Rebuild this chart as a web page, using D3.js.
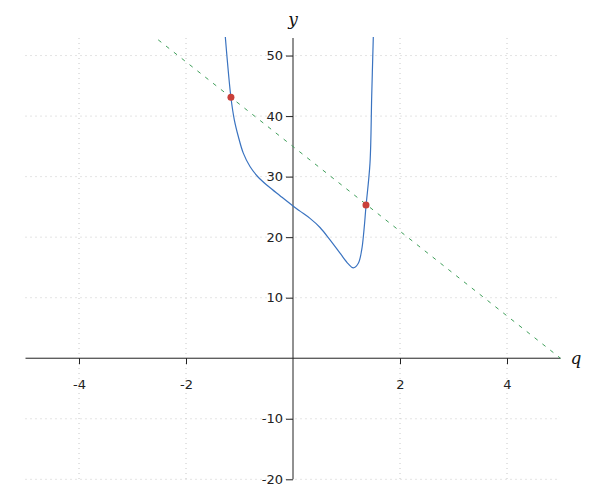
<!DOCTYPE html>
<html>
<head>
<meta charset="utf-8">
<script src="https://cdn.jsdelivr.net/npm/d3@7"></script>
<style>
  body { margin: 0; background: #fff; }
  .grid line { stroke: #c8c8c8; stroke-dasharray: 1,4; }
  .axis text { font-family: "DejaVu Sans", sans-serif; font-size: 13px; fill: #222; }
  .axis path, .axis line { stroke: #222; }
  .lbl { font-family: "DejaVu Serif", serif; font-style: italic; font-size: 17px; fill: #111; }
</style>
</head>
<body>
<div id="chart"></div>
<script>
// curve (q, y)
const curveQ = [-1.265, -1.159, -1.097, -1.022, -0.929, -0.804, -0.649, -0.462, -0.243, -0.006, 0.131, 0.318, 0.505, 0.692, 0.879, 1.034, 1.127, 1.221, 1.284, 1.327, 1.364, 1.439, 1.471, 1.501];
const curveY = [53.06, 42.98, 39.39, 36.63, 33.88, 31.67, 29.9, 28.4, 26.85, 25.2, 24.3, 23.1, 21.6, 19.55, 17.36, 15.59, 14.93, 15.70, 17.90, 21.21, 25.06, 32.23, 43.24, 53.06];

// dashed line end points
const lineQ = [-2.52, 5];
const lineY = [52.6, 0];

// intersection points
const dotQ = [-1.16, 1.364];
const dotY = [43.1, 25.3];

const xTicks = [-4, -2, 2, 4];
const yTicks = [-20, -10, 10, 20, 30, 40, 50];

const W = 600, H = 500;
const margin = { top: 38, right: 39.5, bottom: 20.7, left: 25.5 };
const width = W - margin.left - margin.right,
      height = H - margin.top - margin.bottom;

const svg = d3.select("#chart").append("svg")
    .attr("width", W)
    .attr("height", H)
  .append("g")
    .attr("transform", "translate(" + margin.left + "," + margin.top + ")");

const x = d3.scaleLinear().domain([-5, 5]).range([0, width]);
const y = d3.scaleLinear().domain([-20, 52.9]).range([height, 0]);

// grid
svg.append("g").attr("class", "grid")
  .selectAll("line").data(xTicks).enter().append("line")
    .attr("x1", d => x(d)).attr("x2", d => x(d))
    .attr("y1", 0).attr("y2", height);
svg.append("g").attr("class", "grid")
  .selectAll("line").data(yTicks).enter().append("line")
    .attr("y1", d => y(d)).attr("y2", d => y(d))
    .attr("x1", 0).attr("x2", width);

// axes through the origin (plain hyphen for negatives)
const fmt = d => String(d);

svg.append("g")
  .attr("class", "axis")
  .attr("transform", `translate(0, ${y(0)})`)
  .call(d3.axisBottom(x).tickValues(xTicks).tickFormat(fmt).tickSizeOuter(0).tickSize(6).tickPadding(16))
  .call(g => g.select(".domain").attr("d", `M0,0H${width}`));

svg.append("g")
  .attr("class", "axis")
  .attr("transform", `translate(${x(0)}, 0)`)
  .call(d3.axisLeft(y).tickValues(yTicks).tickFormat(fmt).tickSizeOuter(0).tickSize(7).tickPadding(3))
  .call(g => g.select(".domain").attr("d", `M0,0V${height}`));

// dashed line
const lineData = lineQ.map((q, i) => ({ q: q, y: lineY[i] }));
svg.append("path")
  .datum(lineData)
  .attr("fill", "none")
  .attr("stroke", "#3f9f5a")
  .attr("stroke-width", 1)
  .attr("stroke-dasharray", "4,6")
  .attr("d", d3.line().x(d => x(d.q)).y(d => y(d.y)));

// curve
const curveData = curveQ.map((q, i) => ({ q: q, y: curveY[i] }));
svg.append("path")
  .datum(curveData)
  .attr("fill", "none")
  .attr("stroke", "#3a73c0")
  .attr("stroke-width", 1.2)
  .attr("d", d3.line().curve(d3.curveCatmullRom.alpha(0.5)).x(d => x(d.q)).y(d => y(d.y)));

// dots
svg.selectAll(".dot")
  .data(dotQ.map((q, i) => ({ q: q, y: dotY[i] })))
  .enter().append("circle")
    .attr("class", "dot")
    .attr("cx", d => x(d.q))
    .attr("cy", d => y(d.y))
    .attr("r", 3.5)
    .attr("fill", "#c9403a");

// axis labels
svg.append("text").attr("class", "lbl")
  .attr("x", x(0)).attr("y", -13)
  .attr("text-anchor", "middle")
  .text("y");
svg.append("text").attr("class", "lbl")
  .attr("x", width + 10).attr("y", y(0) + 6)
  .text("q");
</script>
</body>
</html>
